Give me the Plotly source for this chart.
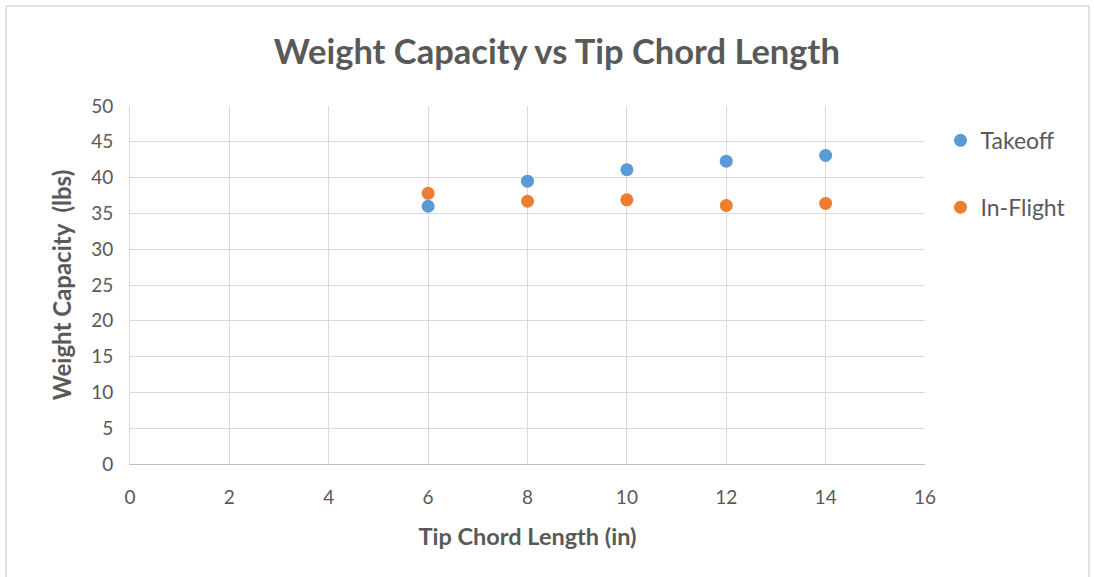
import plotly.graph_objects as go

# Tip chord length (in) and measured weight capacity (lbs)
chord_in = [6, 8, 10, 12, 14]
takeoff_lbs = [36.0, 39.5, 41.1, 42.3, 43.1]
inflight_lbs = [37.8, 36.7, 36.9, 36.1, 36.4]

x_ticks = [0, 2, 4, 6, 8, 10, 12, 14, 16]
y_ticks = [0, 5, 10, 15, 20, 25, 30, 35, 40, 45, 50]

FONT = "Lato"
TEXT_GREY = "#595959"
GRID = "#d9d9d9"

fig = go.Figure()
fig.add_trace(go.Scatter(
    x=chord_in, y=takeoff_lbs, mode="markers", name="Takeoff",
    legendgroup="a",
    marker=dict(color="#5b9bd5", size=13, line=dict(width=0)),
))
fig.add_trace(go.Scatter(
    x=chord_in, y=inflight_lbs, mode="markers", name="In-Flight",
    legendgroup="b",
    marker=dict(color="#ed7d31", size=13, line=dict(width=0)),
))

fig.update_layout(
    width=1094, height=577,
    margin=dict(l=130, r=169, t=106, b=113),
    paper_bgcolor="white", plot_bgcolor="white",
    font=dict(family=FONT, color=TEXT_GREY, size=16),
    title=dict(
        text="<b>Weight Capacity vs Tip Chord Length</b>",
        x=0.509, xanchor="center", y=0.91, yanchor="middle",
        font=dict(family=FONT, size=34.5, color=TEXT_GREY),
    ),
    legend=dict(
        x=1.0195, xanchor="left", y=0.964, yanchor="top",
        font=dict(family=FONT, size=23, color=TEXT_GREY),
        tracegroupgap=34, itemwidth=30,
        bgcolor="rgba(0,0,0,0)",
    ),
    xaxis=dict(
        range=[0, 16], tickvals=x_ticks, showgrid=True, gridcolor=GRID,
        gridwidth=1, zeroline=False, showline=True, linecolor="#bfbfbf",
        linewidth=1, mirror=False, ticks="", ticklabelstandoff=16,
        tickfont=dict(size=19, color=TEXT_GREY),
        title=dict(text="<b>Tip Chord Length (in)</b>", standoff=21,
                   font=dict(size=23.5, color=TEXT_GREY)),
    ),
    yaxis=dict(
        range=[0, 50], tickvals=y_ticks, showgrid=True, gridcolor=GRID,
        gridwidth=1, zeroline=False, showline=True, linecolor=GRID,
        linewidth=1, ticks="", ticklabelstandoff=12,
        tickfont=dict(size=19, color=TEXT_GREY),
        title=dict(text="<b>Weight Capacity  (lbs)</b>", standoff=12,
                   font=dict(size=24, color=TEXT_GREY)),
    ),
    shapes=[dict(
        type="rect", xref="paper", yref="paper",
        x0=-124 / 795, x1=(1089 - 130) / 795,
        y0=-(577 - 464) / 358 - 0.01, y1=1 + 100 / 358,
        line=dict(color="#d9d9d9", width=1.5), fillcolor="rgba(0,0,0,0)",
        layer="below",
    )],
)

fig.write_html("out.html")
